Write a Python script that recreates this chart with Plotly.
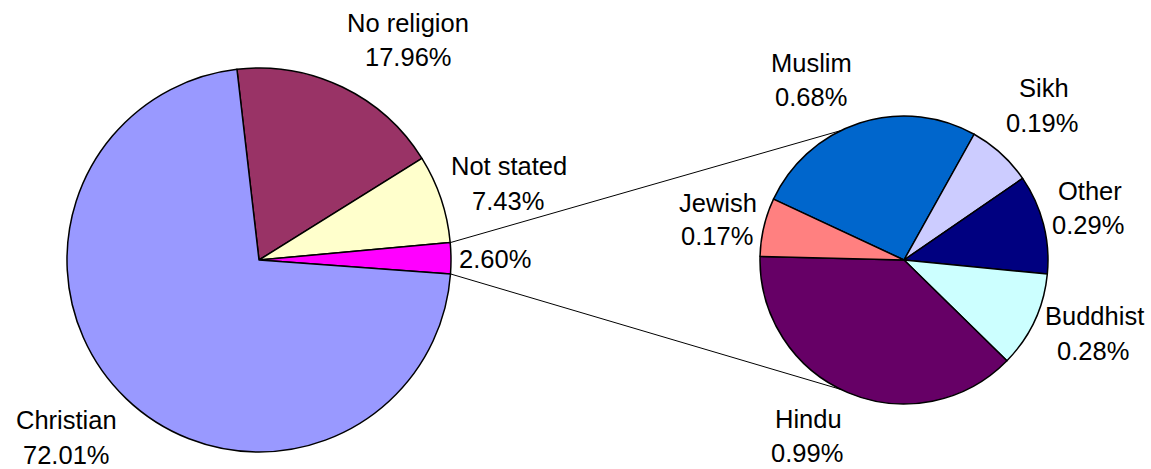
import math
import plotly.graph_objects as go

# ---- data ----
main_labels = ["No religion", "Not stated", "Other religions", "Christian"]
main_values = [17.96, 7.43, 2.60, 72.01]

sub_labels = ["Muslim", "Sikh", "Other", "Buddhist", "Hindu", "Jewish"]
sub_values = [0.68, 0.19, 0.29, 0.28, 0.99, 0.17]

# ---- styles ----
main_colors = ["#993366", "#FFFFCC", "#FF00FF", "#9999FF"]
sub_colors = ["#0066CC", "#CCCCFF", "#000080", "#CCFFFF", "#660066", "#FF8080"]

W, H = 1151, 469
FONT = dict(family="Arial, Liberation Sans, sans-serif", size=25.5, color="black")

# pie geometry (pixels)
L_CX, L_CY, L_R = 259, 260, 192
R_CX, R_CY, R_R = 904, 260, 144
L_ROT = -6.6
R_ROT = -65.0

def px_x(x):
    return x / W

def px_y(y):
    return 1 - y / H

fig = go.Figure()
fig.add_trace(go.Pie(
    labels=main_labels, values=main_values, sort=False, direction="clockwise",
    rotation=L_ROT, textinfo="none", hoverinfo="label+value",
    marker=dict(colors=main_colors, line=dict(color="black", width=1.5)),
    domain=dict(x=[px_x(L_CX - L_R), px_x(L_CX + L_R)],
                y=[px_y(L_CY + L_R), px_y(L_CY - L_R)]),
    showlegend=False,
))
fig.add_trace(go.Pie(
    labels=sub_labels, values=sub_values, sort=False, direction="clockwise",
    rotation=R_ROT, textinfo="none", hoverinfo="label+value",
    marker=dict(colors=sub_colors, line=dict(color="black", width=1.5)),
    domain=dict(x=[px_x(R_CX - R_R), px_x(R_CX + R_R)],
                y=[px_y(R_CY + R_R), px_y(R_CY - R_R)]),
    showlegend=False,
))

# connector lines: from the edges of the split slice to the secondary pie
tot = sum(main_values)
start = L_ROT + 360 * sum(main_values[:2]) / tot
end = start + 360 * main_values[2] / tot
def on_circle(cx, cy, r, ang):
    a = math.radians(ang)
    return cx + r * math.sin(a), cy - r * math.cos(a)
p1 = on_circle(L_CX, L_CY, L_R, start)
p2 = on_circle(L_CX, L_CY, L_R, end)
q1 = on_circle(R_CX, R_CY, R_R, -26.0)
q2 = on_circle(R_CX, R_CY, R_R, 206.0)
for a, b in [(p1, q1), (p2, q2)]:
    fig.add_shape(type="line", xref="paper", yref="paper",
                  x0=px_x(a[0]), y0=px_y(a[1]), x1=px_x(b[0]), y1=px_y(b[1]),
                  line=dict(color="black", width=1))

# labels: (text, x center px, baseline px)
label_lines = [
    ("No religion", 408, 32), ("17.96%", 408, 66),
    ("Not stated", 509, 175), ("7.43%", 508, 210),
    ("2.60%", 495, 268),
    ("Christian", 66, 429), ("72.01%", 66, 464),
    ("Muslim", 811, 72), ("0.68%", 811, 106),
    ("Sikh", 1044, 97), ("0.19%", 1042, 132),
    ("Other", 1090, 200), ("0.29%", 1088, 234),
    ("Buddhist", 1094, 325), ("0.28%", 1093, 360),
    ("Jewish", 718, 212), ("0.17%", 717, 245),
    ("Hindu", 808, 428), ("0.99%", 807, 462),
]
for t, x, yb in label_lines:
    fig.add_annotation(text=t, x=px_x(x), y=px_y(yb - 9), xref="paper", yref="paper",
                       xanchor="center", yanchor="middle", showarrow=False, font=FONT)

fig.update_layout(width=W, height=H, autosize=False,
                  margin=dict(l=0, r=0, t=0, b=0),
                  paper_bgcolor="white", plot_bgcolor="white")
fig.write_html("out.html", config={"displayModeBar": False},
               post_script="document.body.style.margin='0';document.body.style.overflow='hidden';")
